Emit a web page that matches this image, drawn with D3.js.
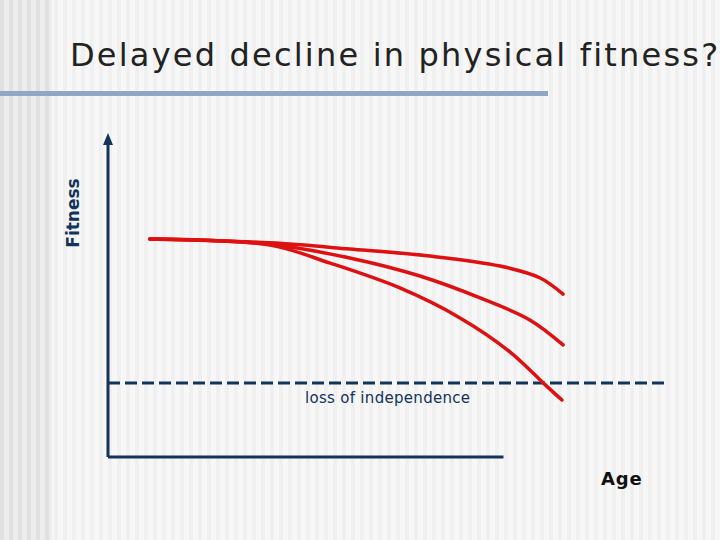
<!DOCTYPE html><html><head><meta charset="utf-8"><script src="https://cdn.jsdelivr.net/npm/d3@7"></script>
<style>body{margin:0}svg{display:block}</style></head><body><svg width="720" height="540"></svg><script>
const topCurve=[[7.5,67.7],[29.1,66.5],[43.4,64.6],[57.8,62.4],[70.4,59.3],[77.6,55.6],[81.7,50.6]];
const midCurve=[[7.5,67.7],[29.1,66.1],[43.4,61.8],[56,56.2],[66.8,49.4],[75.8,42.5],[81.7,34.8]];
const lowCurve=[[7.5,67.7],[29.1,65.8],[39.9,60.2],[52.4,52.5],[63.2,43.2],[72.2,32.6],[78.5,22.4],[81.5,17.7]];
const threshold=23;
const labels={title:"Delayed decline in physical fitness?",y:"Fitness",x:"Age",line:"loss of independence"};
const svg=d3.select("svg");
svg.append("rect").attr("width",720).attr("height",540).attr("fill","#f7f7f7");
for(let i=0;i<720;i+=9){const dark=i<52;svg.append("rect").attr("x",i).attr("y",0).attr("width",4).attr("height",540).attr("fill",dark?"#dcdcdc":"#f0f0f0");}
svg.append("rect").attr("x",0).attr("width",52).attr("height",540).attr("fill","#e4e4e4").attr("opacity",0.5);
svg.append("text").attr("x",70).attr("y",66).attr("font-family","DejaVu Sans").attr("font-size",32).attr("letter-spacing",2.2).attr("fill","#222").text(labels.title);
svg.append("rect").attr("x",0).attr("y",91).attr("width",548).attr("height",5).attr("fill","#8fa6c4");
const x=d3.scaleLinear().domain([0,100]).range([108,665]);
const y=d3.scaleLinear().domain([0,100]).range([457,135]);
const navy="#12345a";
svg.append("line").attr("x1",x(0)).attr("x2",x(0)).attr("y1",y(0)).attr("y2",y(100)+4).attr("stroke",navy).attr("stroke-width",3);
svg.append("path").attr("d",`M${x(0)-5},${y(100)+10}L${x(0)},${y(100)-2}L${x(0)+5},${y(100)+10}Z`).attr("fill",navy);
svg.append("line").attr("x1",x(0)).attr("x2",x(71)).attr("y1",y(0)).attr("y2",y(0)).attr("stroke",navy).attr("stroke-width",3);
svg.append("line").attr("x1",x(0)).attr("x2",x(100)).attr("y1",y(threshold)).attr("y2",y(threshold)).attr("stroke",navy).attr("stroke-width",3).attr("stroke-dasharray","12,5");
svg.append("text").attr("x",305).attr("y",403).attr("font-family","DejaVu Sans").attr("font-size",15).attr("letter-spacing",0.3).attr("fill","#12345a").text(labels.line);
svg.append("text").attr("transform",`translate(79,${y(65)}) rotate(-90)`).attr("font-family","DejaVu Sans").attr("font-weight","bold").attr("font-size",17).attr("fill",navy).text(labels.y);
svg.append("text").attr("x",601).attr("y",485).attr("font-family","DejaVu Sans").attr("font-weight","bold").attr("font-size",18).attr("letter-spacing",0.8).attr("fill","#111").text(labels.x);
const line=d3.line().x(d=>x(d[0])).y(d=>y(d[1])).curve(d3.curveCatmullRom.alpha(0.5));
[topCurve,midCurve,lowCurve].forEach(c=>svg.append("path").attr("d",line(c)).attr("fill","none").attr("stroke","#dd1111").attr("stroke-width",3.5).attr("stroke-linecap","round"));
</script></body></html>
